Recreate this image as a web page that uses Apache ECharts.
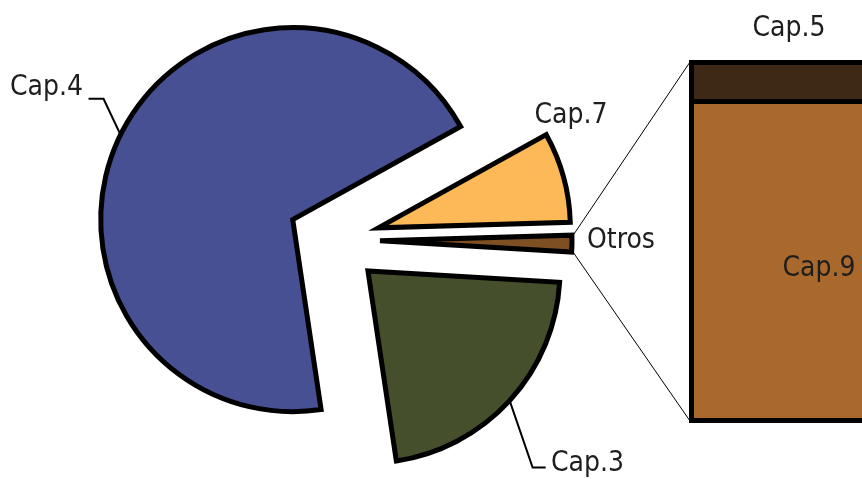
<!DOCTYPE html>
<html>
<head>
<meta charset="utf-8">
<script src="https://cdn.jsdelivr.net/npm/echarts@6/dist/echarts.min.js"></script>
<style>
    html, body { margin: 0; padding: 0; background: #fff; }
    #main { width: 862px; height: 479px; }
</style>
</head>
<body>
<div id="main"></div>
<script>
    // pie: Otros is the sum of the bar items
    const pieNames = ['Cap.4', 'Cap.7', 'Otros', 'Cap.3'];
    const barNames = ['Cap.5', 'Cap.9'];
    const barValues = [0.15, 1.25];
    const otrosTotal = barValues[0] + barValues[1];
    const pieValues = [69.3, 7.6, otrosTotal, 21.7];

    const pieColors = ['#465093', '#fdb958', '#7e4f22', '#454f2c'];
    const barColors = ['#3e2916', '#aa692c'];

    const pieCenter = [334, 240];
    const pieRadius = 192;
    const explode = 46;
    const startAngle = 278.5;

    const font = { fontFamily: 'DejaVu Sans Condensed, DejaVu Sans', fontSize: 28, color: '#1e1e1e' };

    // where each pie label sits, and the leader line bends (relative to the arc point)
    const labelSpots = [
        { x: 83, y: 88, align: 'right', line: [[-17, -36], [-32, -36]] },
        { x: 571, y: 116, align: 'center' },
        { x: 587, y: 241, align: 'left' },
        { x: 551, y: 464, align: 'left', line: [[23, 67], [36, 67]] }
    ];

    const total = pieValues.reduce((s, v) => s + v, 0);
    const rad = Math.PI / 180;
    // start / end angle of each slice (degrees, counter-clockwise positive)
    const sliceAngles = [];
    let acc = startAngle;
    pieValues.forEach(v => {
        const a = acc - v / total * 360;
        sliceAngles.push([acc, a]);
        acc = a;
    });
    const sliceCenter = i => {
        const mid = (sliceAngles[i][0] + sliceAngles[i][1]) / 2 * rad;
        return [pieCenter[0] + explode * Math.cos(mid), pieCenter[1] - explode * Math.sin(mid)];
    };

    // one pie series per exploded slice, the other slices left invisible
    const pieSeries = pieNames.map((name, k) => ({
        type: 'pie',
        name: name,
        center: sliceCenter(k),
        radius: pieRadius,
        startAngle: startAngle,
        clockwise: true,
        silent: true,
        avoidLabelOverlap: false,
        label: Object.assign({ position: 'outside' }, font),
        labelLine: { length: 20, length2: 15, lineStyle: { color: '#000', width: 2 } },
        labelLayout: function (p) {
            const s = labelSpots[k];
            const out = { x: s.x, y: s.y, align: s.align, verticalAlign: 'middle' };
            if (s.line && p.labelLinePoints) {
                const a = p.labelLinePoints[0];
                out.labelLinePoints = [a, [a[0] + s.line[0][0], a[1] + s.line[0][1]], [a[0] + s.line[1][0], a[1] + s.line[1][1]]];
            }
            return out;
        },
        data: pieNames.map((n, i) => ({
            name: n,
            value: pieValues[i],
            itemStyle: i === k
                ? { color: pieColors[i], borderColor: '#000', borderWidth: 5, borderJoin: 'miter' }
                : { color: 'rgba(0,0,0,0)', borderWidth: 0 },
            label: { show: i === k },
            labelLine: { show: i === k && !!labelSpots[i].line }
        }))
    }));

    const chart = echarts.init(document.getElementById('main'));

    const option = {
        animation: false,
        grid: { left: 689, top: 60, width: 200, bottom: 56, outerBoundsMode: 'none', containLabel: false },
        xAxis: { type: 'category', data: ['Otros'], show: false },
        yAxis: { type: 'value', min: 0, max: otrosTotal, show: false },
        series: pieSeries.concat([
            {
                // its inset top border doubles as the divider
                type: 'bar',
                name: barNames[1],
                stack: 'otros',
                barWidth: '100%',
                silent: true,
                data: [barValues[1]],
                itemStyle: { color: barColors[1], borderColor: '#000', borderWidth: 5 },
                label: Object.assign({ show: true, position: 'inside', formatter: '{a}', offset: [30, 8] }, font)
            },
            {
                type: 'bar',
                name: barNames[0],
                stack: 'otros',
                barWidth: '100%',
                silent: true,
                data: [barValues[0]],
                itemStyle: { color: barColors[0] },
                label: Object.assign({ show: true, position: 'top', distance: 17, formatter: '{a}' }, font)
            },
            {
                // outline round the whole bar
                type: 'bar',
                name: 'Otros',
                barWidth: '100%',
                barGap: '-100%',
                silent: true,
                data: [otrosTotal],
                itemStyle: { color: 'rgba(0,0,0,0)', borderColor: '#000', borderWidth: 5 }
            }
        ])
    };

    chart.setOption(option);

    // connector lines: Otros slice outer corners -> left edge of the bar
    const oc = sliceCenter(2);
    const [a0, a1] = sliceAngles[2];
    const tipTop = [oc[0] + pieRadius * Math.cos(a0 * rad), oc[1] - pieRadius * Math.sin(a0 * rad)];
    const tipBot = [oc[0] + pieRadius * Math.cos(a1 * rad), oc[1] - pieRadius * Math.sin(a1 * rad)];
    const barTop = chart.convertToPixel({ gridIndex: 0 }, [0, otrosTotal]);
    const barBot = chart.convertToPixel({ gridIndex: 0 }, [0, 0]);
    const barLeft = option.grid.left + 1;

    chart.setOption({
        graphic: [
            { type: 'line', shape: { x1: tipTop[0] + 2, y1: tipTop[1] - 1, x2: barLeft, y2: barTop[1] + 2 }, style: { stroke: '#000', lineWidth: 1 }, z: 0 },
            { type: 'line', shape: { x1: tipBot[0] + 2, y1: tipBot[1] + 1, x2: barLeft, y2: barBot[1] - 2 }, style: { stroke: '#000', lineWidth: 1 }, z: 0 }
        ]
    });
</script>
</body>
</html>
